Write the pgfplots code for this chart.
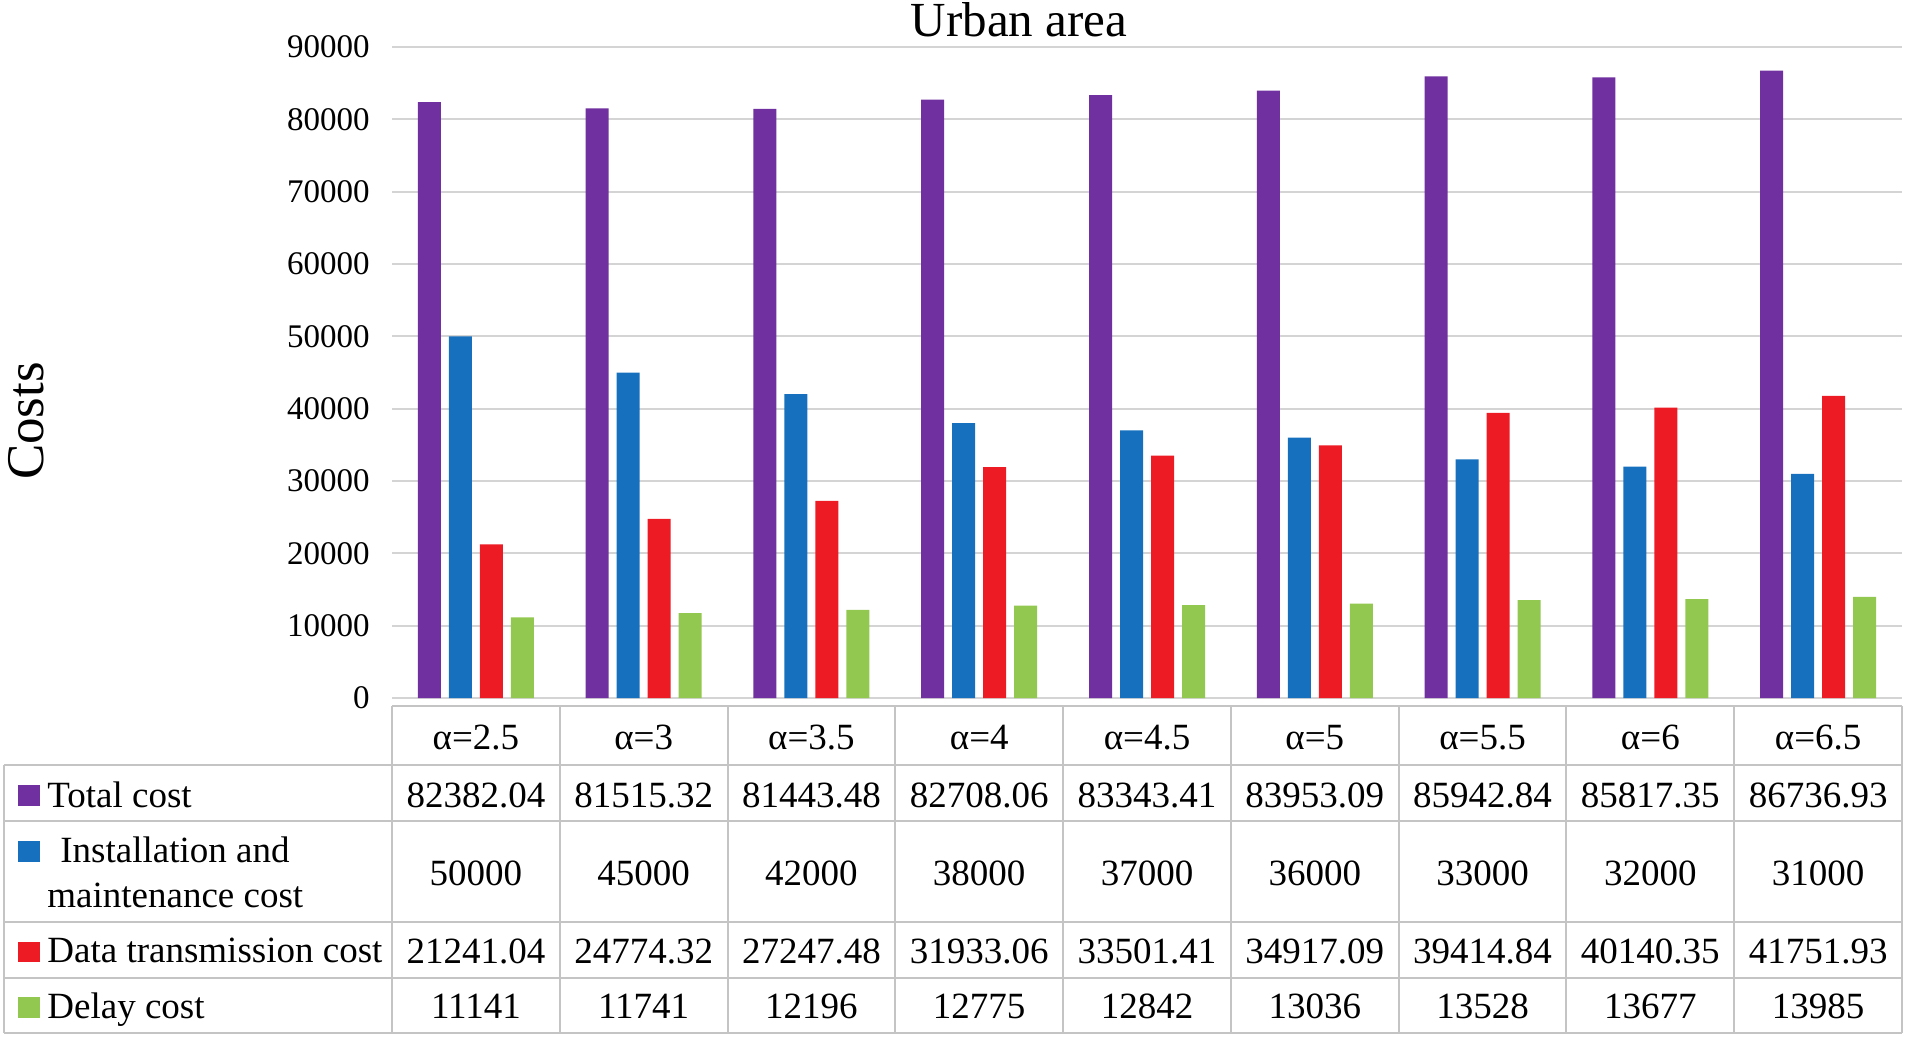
\documentclass[border=0pt]{standalone}
\usepackage{fontspec}
\setmainfont{Liberation Serif}
\usepackage{pgfplots}
\pgfplotsset{compat=1.18}
\usepackage{pgfplotstable}

\definecolor{cTot}{HTML}{7030A0}
\definecolor{cIns}{HTML}{1670BE}
\definecolor{cDat}{HTML}{ED1C24}
\definecolor{cDel}{HTML}{92C84F}
\definecolor{gridc}{HTML}{D4D4D4}
\definecolor{tabc}{HTML}{C4C4C4}

% alpha  total  installation  data transmission  delay
\pgfplotstableread{
x total install data delay
0 82382.04 50000 21241.04 11141
1 81515.32 45000 24774.32 11741
2 81443.48 42000 27247.48 12196
3 82708.06 38000 31933.06 12775
4 83343.41 37000 33501.41 12842
5 83953.09 36000 34917.09 13036
6 85942.84 33000 39414.84 13528
7 85817.35 32000 40140.35 13677
8 86736.93 31000 41751.93 13985
}\costs

\begin{document}
\begin{tikzpicture}
\path[use as bounding box] (0,0) rectangle (952.5pt,-518.5pt);
\begin{axis}[
    at={(196pt,-349pt)}, anchor=south west,
    scale only axis, width=755pt, height=325.5pt,
    xmin=-0.5, xmax=8.5, ymin=0, ymax=90000,
    ybar=4pt, bar width=11.5pt,
    xtick=\empty,
    ytick={0,10000,...,90000},
    yticklabels={0,10000,20000,30000,40000,50000,60000,70000,80000,90000},
    scaled y ticks=false,
    major tick length=0pt,
    ymajorgrids, grid style={gridc, line width=1pt},
    axis line style={draw=none},
    yticklabel style={font=\fontsize{16.5}{18}\selectfont, inner sep=0pt, xshift=-11pt},
    clip=false,
  ]
  \addplot[fill=cTot, draw=none] table[x=x, y=total] {\costs};
  \addplot[fill=cIns, draw=none] table[x=x, y=install] {\costs};
  \addplot[fill=cDat, draw=none] table[x=x, y=data] {\costs};
  \addplot[fill=cDel, draw=none] table[x=x, y=delay] {\costs};
\end{axis}

% title, y label and the data table, positions in pixels from the top left
\begin{scope}[x=0.5pt, y=-0.5pt]
  \node[anchor=base, inner sep=0pt, font=\fontsize{24.5}{28}\selectfont] at (1019,37) {Urban area};
  \node[rotate=90, anchor=base, inner sep=0pt, font=\fontsize{26.5}{30}\selectfont] at (43,421) {Costs};

  \begin{scope}[draw=tabc, line width=1pt]
    \foreach \k in {0,...,9} \draw ({392+\k*167.78},706) -- ({392+\k*167.78},1033);
    \draw (392,706) -- (1902,706);
    \foreach \yy in {765,821,922,978,1033} \draw (4,\yy) -- (1902,\yy);
    \draw (4,765) -- (4,1033);
  \end{scope}

  \begin{scope}[font=\fontsize{18.5}{22}\selectfont]
    \foreach \lab [count=\i from 0] in {2.5,3,3.5,4,4.5,5,5.5,6,6.5}
      \node[anchor=base, inner sep=0pt] at ({392+(\i+0.5)*167.78},749) {α=\lab};
    \foreach \v [count=\i from 0] in {82382.04,81515.32,81443.48,82708.06,83343.41,83953.09,85942.84,85817.35,86736.93}
      \node[anchor=base, inner sep=0pt] at ({392+(\i+0.5)*167.78},807) {\v};
    \foreach \v [count=\i from 0] in {50000,45000,42000,38000,37000,36000,33000,32000,31000}
      \node[anchor=base, inner sep=0pt] at ({392+(\i+0.5)*167.78},885) {\v};
    \foreach \v [count=\i from 0] in {21241.04,24774.32,27247.48,31933.06,33501.41,34917.09,39414.84,40140.35,41751.93}
      \node[anchor=base, inner sep=0pt] at ({392+(\i+0.5)*167.78},963) {\v};
    \foreach \v [count=\i from 0] in {11141,11741,12196,12775,12842,13036,13528,13677,13985}
      \node[anchor=base, inner sep=0pt] at ({392+(\i+0.5)*167.78},1018) {\v};

    \fill[cTot] (18,785) rectangle (40,806);
    \node[anchor=base west, inner sep=0pt] at (47,807) {Total cost};
    \fill[cIns] (18,841) rectangle (40,862);
    \node[anchor=base west, inner sep=0pt] at (60,862) {Installation and};
    \node[anchor=base west, inner sep=0pt] at (47,907) {maintenance cost};
    \fill[cDat] (18,942) rectangle (40,962);
    \node[anchor=base west, inner sep=0pt] at (47,962) {Data transmission cost};
    \fill[cDel] (18,997) rectangle (40,1018);
    \node[anchor=base west, inner sep=0pt] at (47,1018) {Delay cost};
  \end{scope}
\end{scope}
\end{tikzpicture}
\end{document}
